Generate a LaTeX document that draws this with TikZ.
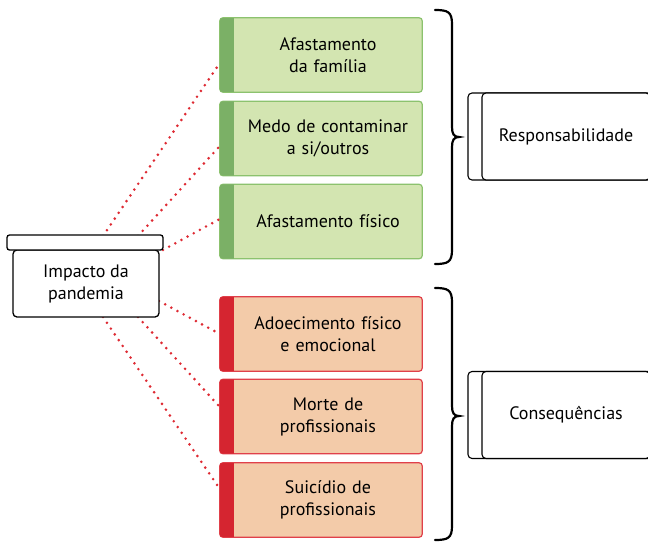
\documentclass[tikz,border=0pt]{standalone}
\usepackage{fontspec}
\setmainfont{PT Sans}
\usetikzlibrary{calc}
\usetikzlibrary{backgrounds}
\definecolor{gfill}{HTML}{D3E5B1}
\definecolor{gstrip}{HTML}{7BB066}
\definecolor{gline}{HTML}{8CC26E}
\definecolor{rfill}{HTML}{F3CBA9}
\definecolor{rstrip}{HTML}{D52530}
\definecolor{rline}{HTML}{E0404A}
\definecolor{dotcol}{HTML}{DE2A33}
\tikzset{
  itembox/.style={rectangle, minimum width=188pt, minimum height=74pt, text width=184pt, align=center, inner sep=0pt},
  dotline/.style={dotcol, line width=2.9pt, line cap=round, dash pattern=on 0pt off 7pt},
  tagbox/.style={rectangle, draw, line width=1.1pt, rounded corners=4pt, fill=white, minimum height=87pt, inner sep=0pt},
  brace/.style={black, line width=2.2pt, line cap=round},
}

\begin{document}
\begin{tikzpicture}[x=1pt,y=-1pt,font=\fontsize{18}{22}\selectfont]
  \def\stripw{14pt} % width of the coloured strip
  \path[use as bounding box] (0,0) rectangle (648,541);
  \clip (0,0) rectangle (648,541);

  % left box
  \node[draw, line width=1.3pt, rounded corners=4pt, fill=white, minimum width=146pt, minimum height=67pt, align=center, inner sep=0pt]
    (imp) at (86,283.5) {Impacto da\\pandemia};
  \node[draw, line width=1.3pt, rounded corners=2.5pt, fill=white, minimum width=156pt, minimum height=15pt, inner sep=0pt]
    (lid) at (85,242.5) {};

  % items
  \node[itembox] (g1) at (328,55)    {Afastamento\\da família};
  \node[itembox] (g2) at (328,138.5) {Medo de contaminar\\a si/outros};
  \node[itembox] (g3) at (328,221.5) {Afastamento físico};
  \node[itembox] (r1) at (328,334)   {Adoecimento físico\\e emocional};
  \node[itembox] (r2) at (328,416.5) {Morte de\\profissionais};
  \node[itembox] (r3) at (328,500)   {Suicídio de\\profissionais};

  \begin{scope}[on background layer]
    \foreach \n/\f/\s/\l in {g1/gfill/gstrip/gline, g2/gfill/gstrip/gline, g3/gfill/gstrip/gline,
                             r1/rfill/rstrip/rline, r2/rfill/rstrip/rline, r3/rfill/rstrip/rline}{
      \fill[\f, rounded corners=3pt] ([xshift=-\stripw]\n.south west) rectangle (\n.north east);
      \draw[\l, line width=1.2pt, rounded corners=3pt] ([xshift=-\stripw]\n.south west) rectangle (\n.north east);
      \begin{scope}
        \clip[rounded corners=3pt] ([xshift=-\stripw]\n.south west) rectangle (\n.north east);
        \fill[\s] ([xshift=-\stripw]\n.south west) rectangle (\n.north west);
      \end{scope}
    }

    % dotted links
    \coordinate (s1) at (103,236);
    \coordinate (s2) at (138,236);
    \coordinate (s3) at (163,250);
    \coordinate (s4) at (159,301);
    \coordinate (s5) at (138,317);
    \coordinate (s6) at (103,317);
    \draw[dotline] (s1) -- ([xshift=-\stripw,yshift=-8pt]g1.west);
    \draw[dotline] (s2) -- ([xshift=-\stripw,yshift=-7.5pt]g2.west);
    \draw[dotline] (s3) -- ([xshift=-\stripw,yshift=2.5pt]g3.west);
    \draw[dotline] (s4) -- ([xshift=-\stripw]r1.west);
    \draw[dotline] (s5) -- ([xshift=-\stripw,yshift=9.5pt]r2.west);
    \draw[dotline] (s6) -- ([xshift=-\stripw,yshift=11pt]r3.west);
  \end{scope}

  % braces
  \foreach \t/\m/\b in {10/137/264, 288/416/540}{
    \draw[brace] (435,\t) .. controls (448,\t) and (452,\t+2) .. (452,\t+14)
      -- (452,\m-10) .. controls (452,\m-3) and (454,\m) .. (459,\m)
      .. controls (454,\m) and (452,\m+3) .. (452,\m+10)
      -- (452,\b-14) .. controls (452,\b-2) and (448,\b) .. (435,\b);
  }

  % groups
  \node[tagbox, minimum width=200pt] (respback) at (568,136.5) {};
  \node[tagbox, minimum width=168pt] (resp) at (566,136.5) {Responsabilidade};
  \node[tagbox, minimum width=200pt] (consback) at (568,415) {};
  \node[tagbox, minimum width=168pt] (cons) at (566,415) {Consequências};
\end{tikzpicture}
\end{document}
